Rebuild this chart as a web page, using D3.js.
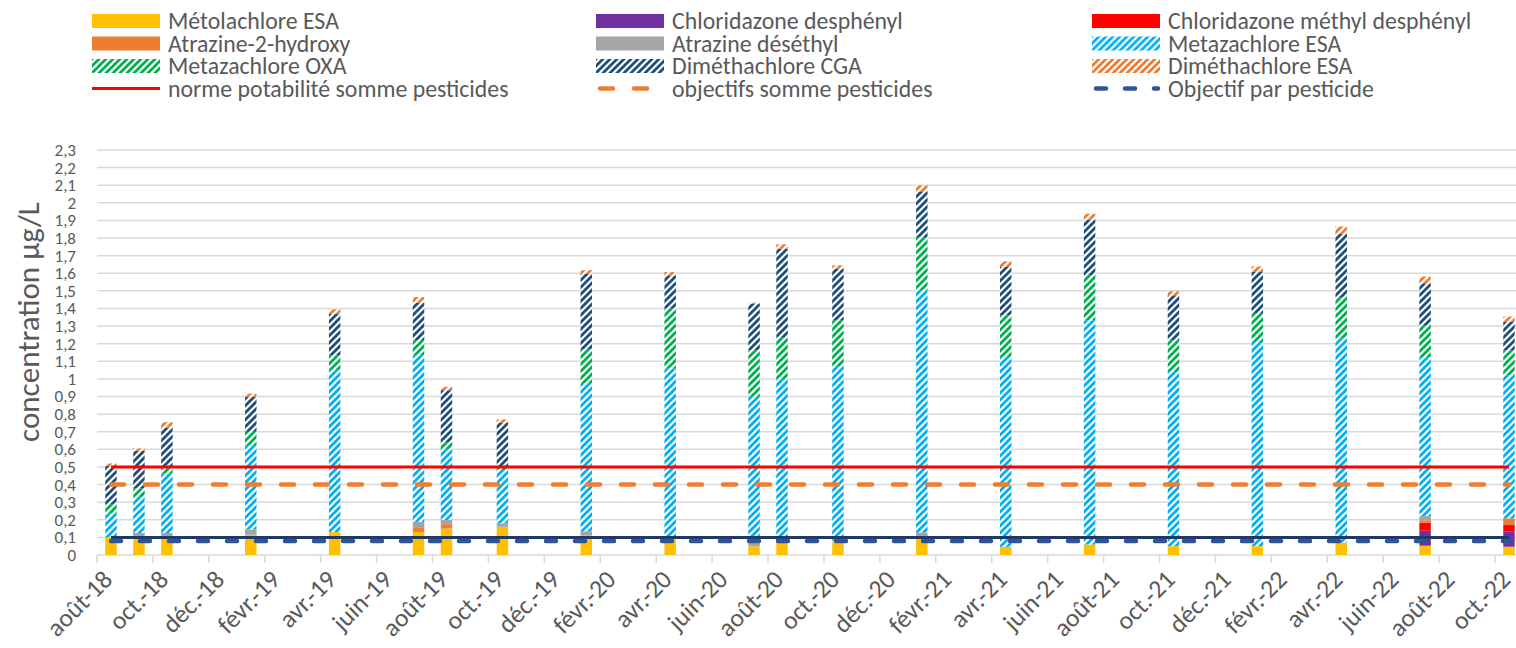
<!DOCTYPE html>
<html>
<head>
<meta charset="utf-8">
<script src="https://cdn.jsdelivr.net/npm/d3@7"></script>
<style>
  body { margin: 0; background: #fff; }
  text { font-family: Carlito, Calibri, Lato, sans-serif; fill: #595959; }
</style>
</head>
<body>
<div id="chart"></div>
<script>
// sampling months (one bar per sample)
var sampleMonths = ["2018-08", "2018-09", "2018-10", "2019-01", "2019-04", "2019-07", "2019-08",
    "2019-10", "2020-01", "2020-04", "2020-07", "2020-08", "2020-10", "2021-01", "2021-04",
    "2021-07", "2021-10", "2022-01", "2022-04", "2022-07", "2022-10"];

// concentrations µg/L
var metolachloreESA = [0.10, 0.10, 0.10, 0.115, 0.13, 0.13, 0.15, 0.16, 0.11, 0.09, 0.05, 0.075, 0.075, 0.10, 0.047, 0.06, 0.05, 0.05, 0.07, 0.053, 0.047];
var chloridazoneDesph = [0, 0, 0, 0, 0, 0, 0, 0, 0, 0, 0, 0, 0, 0, 0, 0, 0, 0, 0, 0.085, 0.085];
var chloridazoneMethDesph = [0, 0, 0, 0, 0, 0, 0, 0, 0, 0, 0, 0, 0, 0, 0, 0, 0, 0, 0, 0.045, 0.038];
var atrazine2Hydroxy = [0, 0, 0, 0, 0, 0.028, 0.025, 0, 0, 0, 0, 0, 0, 0, 0, 0, 0, 0, 0, 0.014, 0.038];
var atrazineDeseth = [0, 0.025, 0.025, 0.03, 0, 0.03, 0.024, 0.02, 0.025, 0, 0.035, 0, 0, 0.028, 0, 0, 0, 0, 0, 0.024, 0];
var metazachloreESA = [0.135, 0.205, 0.338, 0.475, 0.919, 0.946, 0.401, 0.302, 0.842, 0.969, 0.813, 0.921, 0.997, 1.375, 1.078, 1.273, 0.99, 1.16, 1.159, 0.902, 0.813];
var metazachloreOXA = [0.055, 0.048, 0.03, 0.08, 0.085, 0.086, 0.04, 0.013, 0.19, 0.34, 0.265, 0.242, 0.261, 0.303, 0.236, 0.255, 0.18, 0.161, 0.236, 0.18, 0.14];
var dimethachloreCGA = [0.215, 0.214, 0.23, 0.198, 0.237, 0.213, 0.296, 0.255, 0.431, 0.189, 0.265, 0.502, 0.293, 0.259, 0.275, 0.316, 0.255, 0.236, 0.36, 0.24, 0.165];
var dimethachloreESA = [0.015, 0.013, 0.031, 0.019, 0.024, 0.032, 0.019, 0.02, 0.019, 0.019, 0.005, 0.024, 0.019, 0.034, 0.032, 0.034, 0.022, 0.032, 0.041, 0.038, 0.028];

// reference levels
var normePotabilite = 0.5;
var objectifsSomme = 0.4;
var normeParPesticide = 0.1;
var objectifParPesticide = 0.08;

var yTickLabels = ["0", "0,1", "0,2", "0,3", "0,4", "0,5", "0,6", "0,7", "0,8", "0,9", "1", "1,1", "1,2",
    "1,3", "1,4", "1,5", "1,6", "1,7", "1,8", "1,9", "2", "2,1", "2,2", "2,3"];
var xTickLabels = ["août-18", "oct.-18", "déc.-18", "févr.-19", "avr.-19", "juin-19", "août-19", "oct.-19",
    "déc.-19", "févr.-20", "avr.-20", "juin-20", "août-20", "oct.-20", "déc.-20", "févr.-21", "avr.-21",
    "juin-21", "août-21", "oct.-21", "déc.-21", "févr.-22", "avr.-22", "juin-22", "août-22", "oct.-22"];

var series = [
    {key: "metolachloreESA", name: "Métolachlore ESA", values: metolachloreESA, color: "#FFC000"},
    {key: "chloridazoneDesph", name: "Chloridazone desphényl", values: chloridazoneDesph, color: "#7030A0"},
    {key: "chloridazoneMethDesph", name: "Chloridazone méthyl desphényl", values: chloridazoneMethDesph, color: "#FF0000"},
    {key: "atrazine2Hydroxy", name: "Atrazine-2-hydroxy", values: atrazine2Hydroxy, color: "#ED7D31"},
    {key: "atrazineDeseth", name: "Atrazine déséthyl", values: atrazineDeseth, color: "#A5A5A5"},
    {key: "metazachloreESA", name: "Metazachlore ESA", values: metazachloreESA, color: "#00B0F0", hatch: true},
    {key: "metazachloreOXA", name: "Metazachlore OXA", values: metazachloreOXA, color: "#00B050", hatch: true},
    {key: "dimethachloreCGA", name: "Diméthachlore CGA", values: dimethachloreCGA, color: "#1F4E79", hatch: true},
    {key: "dimethachloreESA", name: "Diméthachlore ESA", values: dimethachloreESA, color: "#ED7D31", hatch: true}
];

var refLines = [
    {name: "norme potabilité somme pesticides", value: normePotabilite, color: "#FF0000", width: 3, dash: null},
    {name: "objectifs somme pesticides", value: objectifsSomme, color: "#ED7D31", width: 4.5, dash: "13,21"},
    {name: null, value: normeParPesticide, color: "#203864", width: 3, dash: null},
    {name: "Objectif par pesticide", value: objectifParPesticide, color: "#2F5597", width: 4.5, dash: "10,19"}
];

var width = 1516, height = 648;
var plot = {left: 97, top: 150, bottom: 555, monthW: 27.96};

var svg = d3.select("#chart").append("svg")
    .attr("width", width)
    .attr("height", height);

var defs = svg.append("defs");
series.filter(function (s) { return s.hatch; }).forEach(function (s) {
    var p = defs.append("pattern")
        .attr("id", "hatch-" + s.key)
        .attr("patternUnits", "userSpaceOnUse")
        .attr("width", 7)
        .attr("height", 7);
    p.append("rect").attr("width", 7).attr("height", 7).attr("fill", "#fff");
    p.append("path")
        .attr("d", "M-2,2 L2,-2 M0,7 L7,0 M5,9 L9,5")
        .attr("stroke", s.color)
        .attr("stroke-width", 2.8);
});
function fillOf(s) { return s.hatch ? "url(#hatch-" + s.key + ")" : s.color; }

// month slots from août-18 to oct.-22
var fmt = d3.timeFormat("%Y-%m");
var allMonths = d3.timeMonth.range(new Date(2018, 7, 1), new Date(2022, 10, 1)).map(fmt);

var x = d3.scaleBand()
    .domain(allMonths)
    .range([plot.left, plot.left + allMonths.length * plot.monthW]);

var y = d3.scaleLinear()
    .domain([0, 2.3])
    .range([plot.bottom, plot.top]);

// gridlines
var yTickValues = yTickLabels.map(function (d) { return +d.replace(",", "."); });
svg.append("g").selectAll("line")
    .data(yTickValues.slice(1))
    .enter().append("line")
    .attr("x1", plot.left).attr("x2", x.range()[1])
    .attr("y1", function (d) { return y(d); })
    .attr("y2", function (d) { return y(d); })
    .attr("stroke", "#D9D9D9")
    .attr("stroke-width", 1.5);

// y axis labels
svg.append("g").selectAll("text")
    .data(yTickValues)
    .enter().append("text")
    .attr("x", 76)
    .attr("y", function (d) { return y(d); })
    .attr("dy", "0.35em")
    .attr("text-anchor", "end")
    .style("font-size", "17px")
    .text(function (d, i) { return yTickLabels[i]; });

svg.append("text")
    .attr("transform", "translate(39,322) rotate(-90)")
    .attr("text-anchor", "middle")
    .style("font-size", "31px")
    .text("concentration µg/L");

// x axis
var tickMonths = allMonths.filter(function (d, i) { return i % 2 === 0; });
var xAxis = svg.append("g");
xAxis.append("line")
    .attr("x1", plot.left).attr("x2", x.range()[1])
    .attr("y1", plot.bottom).attr("y2", plot.bottom)
    .attr("stroke", "#D9D9D9").attr("stroke-width", 1.5);
xAxis.selectAll(".tick")
    .data(tickMonths)
    .enter().append("line")
    .attr("x1", function (d) { return x(d); })
    .attr("x2", function (d) { return x(d); })
    .attr("y1", plot.bottom).attr("y2", plot.bottom + 8)
    .attr("stroke", "#D9D9D9").attr("stroke-width", 1.5);
xAxis.selectAll("text")
    .data(tickMonths)
    .enter().append("text")
    .attr("transform", function (d) {
        return "translate(" + (x(d) + x.bandwidth() / 2 + 3) + "," + (plot.bottom + 26) + ") rotate(-45)";
    })
    .attr("text-anchor", "end")
    .style("font-size", "25.5px")
    .text(function (d, i) { return xTickLabels[i]; });

// stacked bars
var rows = sampleMonths.map(function (m, i) {
    var r = {month: m};
    series.forEach(function (s) { r[s.key] = s.values[i]; });
    return r;
});
var stack = d3.stack().keys(series.map(function (s) { return s.key; }));
var barW = x.bandwidth() * 0.41;

svg.append("g").selectAll("g")
    .data(stack(rows))
    .enter().append("g")
    .attr("fill", function (d, i) { return fillOf(series[i]); })
    .selectAll("rect")
    .data(function (d) { return d; })
    .enter().append("rect")
    .attr("x", function (d) { return x(d.data.month) + x.bandwidth() / 2 - barW / 2; })
    .attr("width", barW)
    .attr("y", function (d) { return y(d[1]); })
    .attr("height", function (d) { return y(d[0]) - y(d[1]); });

// reference lines across the sampled period
var first = sampleMonths[0], last = sampleMonths[sampleMonths.length - 1];
var line = d3.line()
    .x(function (d) { return x(d.m) + x.bandwidth() / 2; })
    .y(function (d) { return y(d.v); });
svg.append("g").selectAll("path")
    .data(refLines)
    .enter().append("path")
    .attr("d", function (r) { return line([{m: first, v: r.value}, {m: last, v: r.value}]); })
    .attr("fill", "none")
    .attr("stroke", function (r) { return r.color; })
    .attr("stroke-width", function (r) { return r.width; })
    .attr("stroke-dasharray", function (r) { return r.dash; })
    .attr("stroke-linecap", function (r) { return r.dash ? "round" : "butt"; });

// legend, 3 columns
var legendItems = series.map(function (s) { return {name: s.name, kind: "rect", s: s}; })
    .concat(refLines.filter(function (r) { return r.name; }).map(function (r) { return {name: r.name, kind: "line", r: r}; }));
var colX = [92, 596, 1092], rowY = [21, 43.5, 66, 88.5];

var lg = svg.append("g").selectAll("g")
    .data(legendItems)
    .enter().append("g")
    .attr("transform", function (d, i) { return "translate(" + colX[i % 3] + "," + rowY[Math.floor(i / 3)] + ")"; });

lg.filter(function (d) { return d.kind === "rect"; })
    .append("rect")
    .attr("x", 0).attr("y", -7)
    .attr("width", 68).attr("height", 14)
    .attr("fill", function (d) { return fillOf(d.s); });

lg.filter(function (d) { return d.kind === "line"; })
    .append("line")
    .attr("x1", function (d) { return d.r.dash ? 4 : 0; })
    .attr("x2", function (d) { return d.r.dash ? 66 : 68; })
    .attr("y1", 0).attr("y2", 0)
    .attr("stroke", function (d) { return d.r.color; })
    .attr("stroke-width", function (d) { return d.r.width; })
    .attr("stroke-dasharray", function (d) { return d.r.dash; })
    .attr("stroke-linecap", function (d) { return d.r.dash ? "round" : "butt"; });

lg.append("text")
    .attr("x", 76)
    .attr("dy", "0.35em")
    .style("font-size", "23.8px")
    .text(function (d) { return d.name; });
</script>
</body>
</html>
